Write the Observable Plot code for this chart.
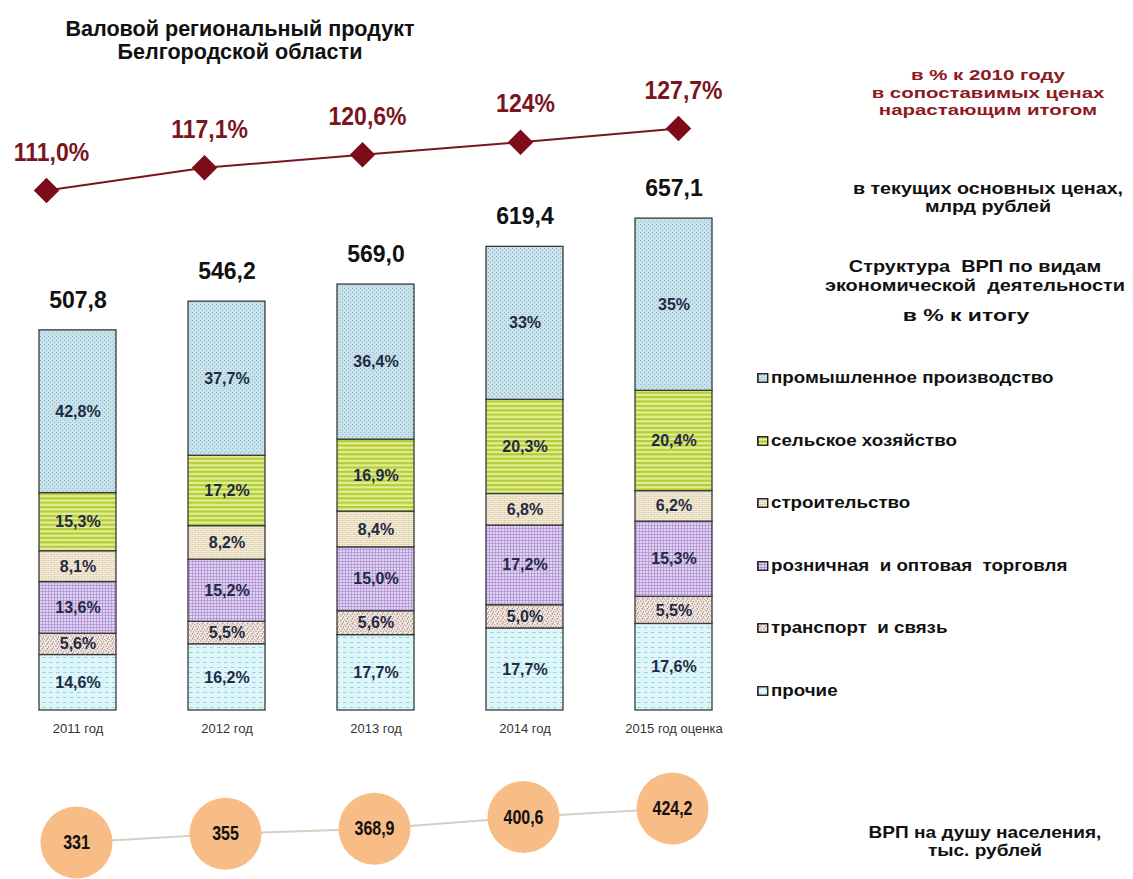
<!DOCTYPE html>
<html lang="ru">
<head>
<meta charset="utf-8">
<script src="https://cdn.jsdelivr.net/npm/d3@7"></script>
<script src="https://cdn.jsdelivr.net/npm/@observablehq/plot@0.6"></script>
<style>
  html, body { margin: 0; padding: 0; background: #fff; }
  #wrap { position: relative; width: 1133px; height: 879px; overflow: hidden; font-family: "Liberation Sans", Arial, sans-serif; font-weight: bold; color: #111; }
  .layer { position: absolute; left: 0; top: 0; }
  .txt { position: absolute; text-align: center; white-space: nowrap; transform-origin: 50% 0; }
  .leg { position: absolute; left: 757px; white-space: nowrap; display: flex; align-items: center; transform-origin: 0 50%; }
  .leg svg { margin-right: 2px; }
</style>
</head>
<body>
<svg width="0" height="0" style="position:absolute">
  <defs>
    <pattern id="p-ind" width="4" height="4" patternUnits="userSpaceOnUse">
      <rect width="4" height="4" fill="#c6e2eb"/>
      <rect x="0" y="0" width="1" height="1" fill="#93b7c6"/>
      <rect x="2" y="2" width="1" height="1" fill="#93b7c6"/>
    </pattern>
    <pattern id="p-agr" width="4" height="4.4" patternUnits="userSpaceOnUse">
      <rect width="4" height="4.4" fill="#e4ee98"/>
      <rect y="0" width="4" height="2.2" fill="#b3cd35"/>
    </pattern>
    <pattern id="p-con" width="6" height="4" patternUnits="userSpaceOnUse">
      <rect width="6" height="4" fill="#f7eed9"/>
      <path d="M0 0.5H6M0 2.5H6M0.5 0.5V2.5M3.5 2.5V4" stroke="#d8c9a8" stroke-width="0.6" fill="none"/>
    </pattern>
    <pattern id="p-trd" width="3" height="3" patternUnits="userSpaceOnUse">
      <rect width="3" height="3" fill="#e2d2f3"/>
      <path d="M0 0.5H3M0.5 0V3" stroke="#a98ccf" stroke-width="0.7" fill="none"/>
    </pattern>
    <pattern id="p-trn" width="5" height="5" patternUnits="userSpaceOnUse">
      <rect width="5" height="5" fill="#f4e6e0"/>
      <rect x="0.5" y="0.5" width="1" height="1" fill="#6f5248"/>
      <rect x="3" y="1.5" width="1" height="1" fill="#8b6a5e"/>
      <rect x="1.8" y="3.3" width="1" height="1" fill="#5e443b"/>
      <rect x="4" y="4" width="0.8" height="0.8" fill="#9a7a6e"/>
    </pattern>
    <pattern id="p-oth" width="7" height="5" patternUnits="userSpaceOnUse">
      <rect width="7" height="5" fill="#dcf6f9"/>
      <path d="M0 2.5H3.5" stroke="#8cc6d4" stroke-width="0.8"/>
    </pattern>
  </defs>
</svg>
<div id="wrap"></div>
<script>
// ---------- data ----------
const years = ["2011 год", "2012 год", "2013 год", "2014 год", "2015 год оценка"];
const totals = [507.8, 546.2, 569.0, 619.4, 657.1];           // млрд рублей
const growthLabels = ["111,0%", "117,1%", "120,6%", "124%", "127,7%"]; // % к 2010 году
const perCapitaLabels = ["331", "355", "368,9", "400,6", "424,2"];    // тыс. рублей

// sectors, bottom to top of the stack
const sectors = ["прочие", "транспорт  и связь", "розничная  и оптовая  торговля", "строительство", "сельское хозяйство", "промышленное производство"];
const shareOther     = ["14,6", "16,2", "17,7", "17,7", "17,6"];
const shareTransport = ["5,6", "5,5", "5,6", "5,0", "5,5"];
const shareTrade     = ["13,6", "15,2", "15,0", "17,2", "15,3"];
const shareBuild     = ["8,1", "8,2", "8,4", "6,8", "6,2"];
const shareAgri      = ["15,3", "17,2", "16,9", "20,3", "20,4"];
const shareIndustry  = ["42,8", "37,7", "36,4", "33", "35"];
const shares = [shareOther, shareTransport, shareTrade, shareBuild, shareAgri, shareIndustry];
const patterns = ["url(#p-oth)", "url(#p-trn)", "url(#p-trd)", "url(#p-con)", "url(#p-agr)", "url(#p-ind)"];
const legendOrder = ["промышленное производство", "сельское хозяйство", "строительство", "розничная  и оптовая  торговля", "транспорт  и связь", "прочие"];

// ---------- derived tables ----------
const num = s => +s.replace(",", ".");
const rows = [];
years.forEach((year, i) => {
  sectors.forEach((sector, j) => {
    rows.push({year, sector, label: shares[j][i] + "%", value: totals[i] * num(shares[j][i]) / 100});
  });
});
const totalRows = years.map((year, i) => ({year, total: totals[i], label: d3.format(".1f")(totals[i]).replace(".", ",")}));
const growthRows = years.map((year, i) => ({year, v: num(growthLabels[i].replace("%", "")), label: growthLabels[i]}));
const capRows = years.map((year, i) => ({year, v: num(perCapitaLabels[i]), label: perCapitaLabels[i]}));

const W = 1133, H = 879;
const wrap = document.getElementById("wrap");
const font = "Liberation Sans, Arial, sans-serif";

// squeeze/stretch text glyphs horizontally (keeps Plot's translate)
function stretch(svg, label, sx) {
  d3.select(svg).selectAll(`g[aria-label="${label}"] text`).each(function () {
    const t = this.getAttribute("transform") || "";
    this.setAttribute("transform", t + ` scale(${sx},1)`);
  });
}

// ---------- bars ----------
const bars = Plot.plot({
  width: W, height: H,
  marginLeft: 1, marginRight: W - 750, marginTop: 186, marginBottom: H - 710,
  style: {background: "transparent", fontFamily: font},
  x: {domain: years, paddingInner: 0.48, paddingOuter: 0.24, label: null},
  y: {domain: [0, 700], axis: null},
  color: {domain: sectors, range: patterns},
  marks: [
    Plot.axisX({tickSize: 0, tickPadding: 13, fontSize: 13, fill: "#333", fontWeight: "normal"}),
    Plot.barY(rows, Plot.stackY({x: "year", y: "value", z: "sector", fill: "sector", stroke: "#3a3a3a", strokeWidth: 1.3})),
    Plot.text(rows, Plot.stackY({x: "year", y: "value", z: "sector", text: "label", fill: "#1f2a44", fontSize: 16, fontWeight: "bold"})),
    Plot.text(totalRows, {x: "year", y: "total", text: "label", dy: -30, fontSize: 23, fontWeight: "bold", fill: "#111"})
  ]
});
bars.classList.add("layer");
wrap.appendChild(bars);

// ---------- growth line ----------
const line = Plot.plot({
  width: W, height: H,
  marginLeft: 45, marginRight: W - 678, marginTop: 128, marginBottom: H - 190,
  style: {background: "transparent", fontFamily: font},
  x: {type: "point", domain: years, padding: 0, axis: null},
  y: {domain: [111, 127.7], axis: null},
  marks: [
    Plot.line(growthRows, {x: "year", y: "v", stroke: "#7a1520", strokeWidth: 2}),
    Plot.dot(growthRows, {x: "year", y: "v", symbol: "diamond2", r: 11.5, fill: "#7c0c18", stroke: "none"}),
    Plot.text(growthRows, {x: "year", y: "v", text: "label", dy: -38, dx: 5, fontSize: 25, fontWeight: "bold", fill: "#7a1520"})
  ]
});
line.classList.add("layer");
stretch(line, "text", 0.92);
wrap.appendChild(line);

// ---------- per-capita circles ----------
const caps = Plot.plot({
  width: W, height: H,
  marginLeft: 75, marginRight: W - 673, marginTop: 808, marginBottom: H - 842,
  style: {background: "transparent", fontFamily: font},
  x: {type: "point", domain: years, padding: 0, axis: null},
  y: {domain: [331, 424.2], axis: null},
  marks: [
    Plot.line(capRows, {x: "year", y: "v", stroke: "#d6cfc2", strokeWidth: 2}),
    Plot.dot(capRows, {x: "year", y: "v", r: 36, fill: "#f8bd86", stroke: "none"}),
    Plot.text(capRows, {x: "year", y: "v", text: "label", fontSize: 20, fontWeight: "bold", fill: "#111"})
  ]
});
caps.classList.add("layer");
stretch(caps, "text", 0.8);
wrap.appendChild(caps);

// ---------- texts ----------
function addText(html, cx, top, size, color, lh, sx) {
  const d = document.createElement("div");
  d.className = "txt";
  d.style.left = (cx - 200) + "px"; d.style.top = top + "px"; d.style.width = "400px";
  d.style.fontSize = size + "px"; d.style.color = color; d.style.lineHeight = lh + "px";
  d.style.transform = `scaleX(${sx})`;
  d.innerHTML = html;
  wrap.appendChild(d);
}
addText("Валовой региональный продукт<br>Белгородской области", 240, 17, 22, "#111", 23, 0.98);
addText("в % к 2010 году<br>в сопоставимых ценах<br>нарастающим итогом", 988, 66, 15, "#8c1a1f", 17.5, 1.36);
addText("в текущих основных ценах,<br>млрд рублей", 988, 180, 16, "#111", 18, 1.23);
addText("Структура&nbsp; ВРП по видам<br>экономической&nbsp; деятельности", 975, 257, 17, "#111", 19, 1.17);
addText("в % к итогу", 966, 306, 17, "#111", 19, 1.35);
addText("ВРП на душу населения,<br>тыс. рублей", 985, 824, 17, "#111", 18, 1.12);

// legend
legendOrder.forEach((name, k) => {
  const j = sectors.indexOf(name);
  const d = document.createElement("div");
  d.className = "leg";
  d.style.top = (369 + k * 62.5) + "px";
  d.style.fontSize = "16px";
  d.style.transform = "scaleX(1.17)";
  d.innerHTML = `<svg width="10" height="10"><rect x="0.75" y="0.75" width="8.5" height="8.5" fill="${patterns[j]}" stroke="#111" stroke-width="1.3"/></svg>` + name.replace(/  /g, "&nbsp; ");
  wrap.appendChild(d);
});
</script>
</body>
</html>
